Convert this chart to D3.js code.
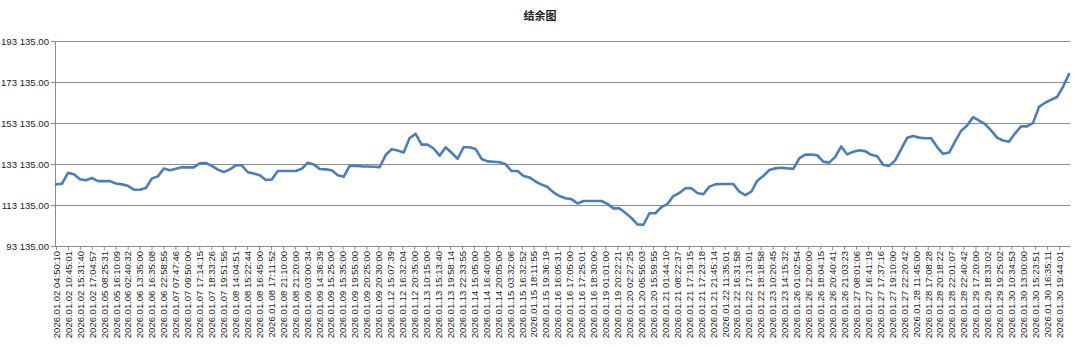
<!DOCTYPE html>
<html>
<head>
<meta charset="utf-8">
<script src="https://cdn.jsdelivr.net/npm/d3@7"></script>
<style>
  html, body { margin: 0; padding: 0; background: #fff; }
  svg { display: block; }
</style>
</head>
<body>
<svg id="chart" width="1080" height="349"></svg>
<script>
const title = "结余图";

const yTicks = [93135, 113135, 133135, 153135, 173135, 193135];

const xLabels = [
"2026.01.02 04:50:10","2026.01.02 10:45:01","2026.01.02 15:31:40","2026.01.02 17:04:57","2026.01.05 08:25:31","2026.01.05 16:10:09","2026.01.06 02:40:32","2026.01.06 13:35:00","2026.01.06 16:35:08","2026.01.06 22:58:55","2026.01.07 07:47:46","2026.01.07 09:50:00","2026.01.07 17:14:15","2026.01.07 18:33:26","2026.01.07 19:51:55","2026.01.08 14:04:51","2026.01.08 15:22:44","2026.01.08 16:45:00","2026.01.08 17:11:52","2026.01.08 21:10:00","2026.01.08 21:20:00","2026.01.09 03:00:34","2026.01.09 14:36:39","2026.01.09 15:25:00","2026.01.09 15:35:00","2026.01.09 19:55:00",
"2026.01.09 20:25:00","2026.01.09 20:30:00","2026.01.12 15:07:39","2026.01.12 16:32:04","2026.01.12 20:35:00","2026.01.13 10:15:00","2026.01.13 15:13:40","2026.01.13 19:58:14","2026.01.13 22:33:55","2026.01.14 15:05:00","2026.01.14 16:40:00","2026.01.14 20:05:00","2026.01.15 03:32:06","2026.01.15 16:32:52","2026.01.15 18:11:55","2026.01.15 19:36:19","2026.01.16 16:05:31","2026.01.16 17:05:00","2026.01.16 17:25:01","2026.01.16 18:30:00","2026.01.19 01:01:00","2026.01.19 20:22:21","2026.01.20 02:27:25","2026.01.20 05:55:03","2026.01.20 15:59:55","2026.01.21 01:44:10","2026.01.21 08:22:37","2026.01.21 17:19:15","2026.01.21 17:23:18","2026.01.21 21:45:14",
"2026.01.22 11:35:01","2026.01.22 16:31:58","2026.01.22 17:13:01","2026.01.22 18:18:58","2026.01.23 10:20:45","2026.01.23 14:15:32","2026.01.26 01:02:54","2026.01.26 12:00:00","2026.01.26 18:04:15","2026.01.26 20:40:41","2026.01.26 21:03:23","2026.01.27 08:01:06","2026.01.27 16:41:19","2026.01.27 17:37:16","2026.01.27 19:10:00","2026.01.27 22:20:42","2026.01.28 11:45:00","2026.01.28 17:08:28","2026.01.28 20:18:22","2026.01.28 22:01:07","2026.01.28 22:40:42","2026.01.29 17:20:00","2026.01.29 18:33:02","2026.01.29 19:25:02","2026.01.30 10:34:53","2026.01.30 13:00:00","2026.01.30 15:23:51","2026.01.30 16:35:11","2026.01.30 19:44:01"
];

// balance readings, sampled evenly along the category axis
const balance = [
123200,123500,128800,128100,125700,125200,126300,124800,124800,124800,
123600,123200,122500,120600,120600,121400,126100,127100,130900,130100,
130800,131500,131500,131500,133500,133600,132200,130400,129200,130500,
132500,132500,129100,128500,127600,125300,125600,129700,129700,129700,
129700,130800,133700,132900,130700,130500,130100,127700,126900,132300,
132200,132000,131900,131800,131600,137500,140300,139700,138800,145800,
147800,142600,142600,140700,137200,141300,138600,135700,141300,141300,
140500,135600,134400,134200,134000,133000,129700,129700,127300,126600,
124600,123100,121900,119300,117500,116400,116000,113900,115100,115100,
115100,115100,113700,111500,111500,109200,106800,103700,103500,109100,
109100,112100,113600,117500,119000,121300,121300,119000,118400,122100,
123200,123400,123400,123400,119600,117900,119600,125000,127300,130200,
131000,131300,131000,130800,135900,137700,137700,137400,134300,133800,
136600,141700,137800,139100,139800,139400,137600,136900,132800,132200,
134900,140400,145900,146800,146000,145700,145700,141400,138100,138700,
144200,149300,151900,156000,154300,152600,149500,146000,144600,144000,
148100,151500,151500,153200,161000,163000,164400,165800,170800,177000
];

const categoryCount = 510;   // underlying categories on the axis
const labelEvery = 6;        // one label per 6 categories

const W = 1080, H = 349;
const plot = { left: 55, right: 1070, top: 41, bottom: 246 };

const svg = d3.select("#chart");

const x = d3.scaleLinear()
  .domain([-0.5, categoryCount - 0.5])
  .range([plot.left, plot.right]);

const y = d3.scaleLinear()
  .domain([93135, 193135])
  .range([plot.bottom, plot.top]);

const locale = d3.formatLocale({ decimal: ".", thousands: " ", grouping: [3], currency: ["", ""] });
const fmt = locale.format(",.2f");

const fontFam = "'Liberation Sans', Arial, sans-serif";

// gridlines
svg.append("g")
  .attr("transform", `translate(${plot.left},0)`)
  .call(d3.axisLeft(y).tickValues(yTicks).tickSize(-(plot.right - plot.left)).tickFormat(""))
  .call(g => g.select(".domain").remove())
  .call(g => g.selectAll("line").attr("stroke", "#8c8c8c").attr("stroke-width", 1));

// y axis
svg.append("g")
  .attr("transform", `translate(${plot.left},0)`)
  .call(d3.axisLeft(y).tickValues(yTicks).tickSize(4).tickPadding(2).tickFormat(fmt))
  .call(g => g.select(".domain").attr("stroke", "#8c8c8c"))
  .call(g => g.selectAll("line").attr("stroke", "#8c8c8c"))
  .call(g => g.selectAll("text")
      .attr("font-family", fontFam).attr("font-size", "9.6px").attr("fill", "#222"));

// x axis
const labelIdx = xLabels.map((d, j) => j * labelEvery);
svg.append("g")
  .attr("transform", `translate(0,${plot.bottom})`)
  .call(d3.axisBottom(x).tickValues(labelIdx).tickSize(4)
      .tickFormat((d) => xLabels[d / labelEvery]))
  .call(g => g.select(".domain").attr("stroke", "#8c8c8c").attr("d", `M${plot.left},0.5H${plot.right}`))
  .call(g => g.selectAll("line").attr("stroke", "#8c8c8c"))
  .call(g => g.selectAll("text")
      .attr("font-family", fontFam).attr("font-size", "9.5px").attr("fill", "#222")
      .attr("transform", "rotate(-90)")
      .attr("text-anchor", "end")
      .attr("x", -5)
      .attr("y", 0)
      .attr("dy", "0.35em"));

// line
const step = (categoryCount - 1) / (balance.length - 1);
const line = d3.line()
  .x((d, i) => x(i * step))
  .y(d => y(d));

svg.append("path")
  .datum(balance)
  .attr("fill", "none")
  .attr("stroke", "#4a7ebb")
  .attr("stroke-width", 2.6)
  .attr("stroke-linejoin", "round")
  .attr("stroke-linecap", "round")
  .attr("d", line);

// title
svg.append("text")
  .attr("x", W / 2)
  .attr("y", 20)
  .attr("text-anchor", "middle")
  .attr("font-family", "'Noto Sans CJK SC', sans-serif")
  .attr("font-size", "11px")
  .attr("font-weight", "bold")
  .attr("fill", "#222")
  .text(title);
</script>
</body>
</html>
